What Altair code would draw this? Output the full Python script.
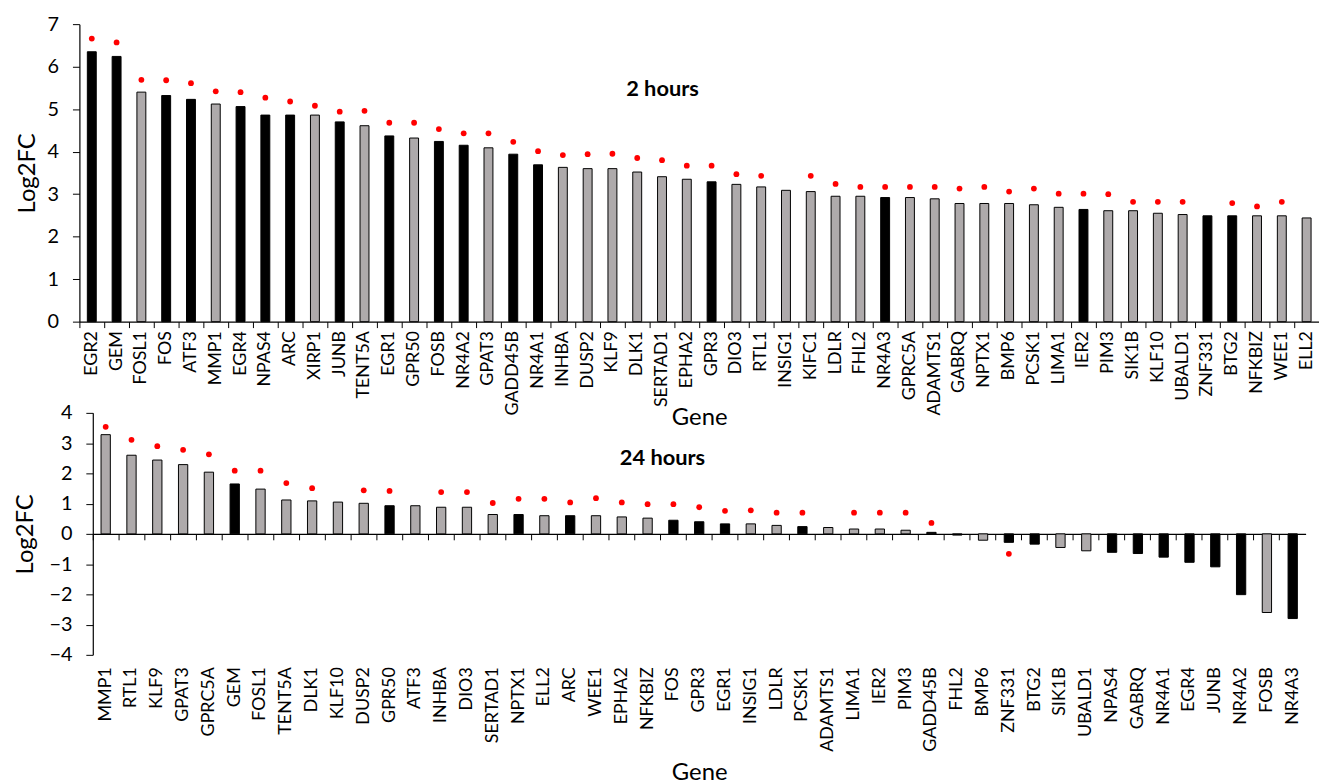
import altair as alt
import pandas as pd

FONT = "Lato"
GRAY = "#AEAAAB"
BLACK = "#000000"

# ---------------- 2 hours ----------------
genes_2h = ["EGR2", "GEM", "FOSL1", "FOS", "ATF3", "MMP1", "EGR4", "NPAS4", "ARC", "XIRP1",
            "JUNB", "TENT5A", "EGR1", "GPR50", "FOSB", "NR4A2", "GPAT3", "GADD45B", "NR4A1", "INHBA",
            "DUSP2", "KLF9", "DLK1", "SERTAD1", "EPHA2", "GPR3", "DIO3", "RTL1", "INSIG1", "KIFC1",
            "LDLR", "FHL2", "NR4A3", "GPRC5A", "ADAMTS1", "GABRQ", "NPTX1", "BMP6", "PCSK1", "LIMA1",
            "IER2", "PIM3", "SIK1B", "KLF10", "UBALD1", "ZNF331", "BTG2", "NFKBIZ", "WEE1", "ELL2"]
lfc_2h = [6.35, 6.24, 5.40, 5.32, 5.23, 5.12, 5.06, 4.86, 4.86, 4.86,
          4.70, 4.61, 4.37, 4.32, 4.24, 4.15, 4.09, 3.94, 3.69, 3.63,
          3.60, 3.60, 3.52, 3.41, 3.35, 3.29, 3.23, 3.17, 3.09, 3.06,
          2.95, 2.95, 2.92, 2.92, 2.89, 2.78, 2.78, 2.78, 2.75, 2.69,
          2.64, 2.61, 2.61, 2.55, 2.52, 2.49, 2.49, 2.49, 2.49, 2.44]
sig_2h = [6.66, 6.57, 5.69, 5.68, 5.61, 5.42, 5.40, 5.27, 5.18, 5.08,
          4.94, 4.96, 4.68, 4.68, 4.53, 4.43, 4.43, 4.23, 4.01, 3.92,
          3.94, 3.95, 3.85, 3.80, 3.67, 3.67, 3.47, 3.43, None, 3.43,
          3.24, 3.17, 3.17, 3.17, 3.17, 3.13, 3.17, 3.06, 3.13, 3.01,
          3.01, 3.00, 2.82, 2.82, 2.82, None, 2.79, 2.71, 2.82, None]
kind_2h = ["k", "k", "g", "k", "k", "g", "k", "k", "k", "g",
           "k", "g", "k", "g", "k", "k", "g", "k", "k", "g",
           "g", "g", "g", "g", "g", "k", "g", "g", "g", "g",
           "g", "g", "k", "g", "g", "g", "g", "g", "g", "g",
           "k", "g", "g", "g", "g", "k", "k", "g", "g", "g"]

# ---------------- 24 hours ----------------
genes_24h = ["MMP1", "RTL1", "KLF9", "GPAT3", "GPRC5A", "GEM", "FOSL1", "TENT5A", "DLK1", "KLF10",
             "DUSP2", "GPR50", "ATF3", "INHBA", "DIO3", "SERTAD1", "NPTX1", "ELL2", "ARC", "WEE1",
             "EPHA2", "NFKBIZ", "FOS", "GPR3", "EGR1", "INSIG1", "LDLR", "PCSK1", "ADAMTS1", "LIMA1",
             "IER2", "PIM3", "GADD45B", "FHL2", "BMP6", "ZNF331", "BTG2", "SIK1B", "UBALD1", "NPAS4",
             "GABRQ", "NR4A1", "EGR4", "JUNB", "NR4A2", "FOSB", "NR4A3"]
lfc_24h = [3.28, 2.60, 2.44, 2.29, 2.04, 1.65, 1.48, 1.12, 1.09, 1.05,
           1.01, 0.93, 0.93, 0.88, 0.88, 0.64, 0.64, 0.60, 0.60, 0.60,
           0.56, 0.52, 0.45, 0.40, 0.33, 0.33, 0.28, 0.24, 0.21, 0.16,
           0.16, 0.12, 0.05, -0.04, -0.21, -0.28, -0.34, -0.45, -0.56, -0.61,
           -0.65, -0.77, -0.94, -1.09, -2.01, -2.60, -2.80]
sig_24h = [3.54, 3.11, 2.90, 2.78, 2.63, 2.09, 2.09, 1.68, 1.51, None,
           1.44, 1.42, None, 1.38, 1.38, 1.02, 1.16, 1.16, 1.04, 1.18,
           1.04, 0.98, 0.98, 0.88, 0.76, 0.78, 0.70, 0.70, None, 0.70,
           0.70, 0.70, 0.36, None, None, -0.66, None, None, None, None,
           None, None, None, None, None, None, None]
kind_24h = ["g", "g", "g", "g", "g", "k", "g", "g", "g", "g",
            "g", "k", "g", "g", "g", "g", "k", "g", "k", "g",
            "g", "g", "k", "k", "k", "g", "g", "k", "g", "g",
            "g", "g", "k", "k", "g", "k", "k", "g", "g", "k",
            "k", "k", "k", "k", "k", "g", "k"]


def panel(genes, lfc, sig, kind, ymin, ymax, width, height, title, title_off,
          zero_offset, lab_pad, y_title_pad, x_title_pad):
    bars_df = pd.DataFrame({
        "gene": genes,
        "lfc": lfc,
        "fill": [BLACK if k == "k" else GRAY for k in kind],
    })
    dots_df = pd.DataFrame({
        "gene": [g for g, s in zip(genes, sig) if s is not None],
        "sig": [s for s in sig if s is not None],
    })
    xscale = alt.Scale(domain=genes, paddingInner=0, paddingOuter=0)
    yscale = alt.Scale(domain=[ymin, ymax], nice=False, zero=True)
    yaxis = alt.Axis(title="Log2FC", values=list(range(ymin, ymax + 1)), grid=False,
                     tickSize=7, labelPadding=14, labelFontSize=20, titleFontSize=24,
                     titleFontWeight="normal", titlePadding=y_title_pad, domainWidth=1.2)
    bars = alt.Chart(bars_df).mark_bar(width={"band": 0.36}, stroke="black", strokeWidth=1).encode(
        x=alt.X("gene:N", scale=xscale,
                axis=alt.Axis(orient="bottom", title="Gene", labelAngle=-90, ticks=False,
                              domain=False, labelPadding=lab_pad, labelFontSize=18,
                              titleFontSize=24, titleFontWeight="normal",
                              titlePadding=x_title_pad, grid=False)),
        y=alt.Y("lfc:Q", scale=yscale, axis=yaxis),
        fill=alt.Fill("fill:N", scale=None),
    )
    dots = alt.Chart(dots_df).mark_circle(size=34, color="#FF0000", opacity=1).encode(
        x=alt.X("gene:N", scale=xscale,
                axis=alt.Axis(orient="bottom", title=None, labels=False, ticks=True, tickSize=6,
                              domain=True, bandPosition=0, offset=zero_offset, grid=False,
                              domainWidth=1.2)),
        y=alt.Y("sig:Q", scale=yscale, axis=yaxis),
    )
    return alt.layer(bars, dots).resolve_axis(x="independent").properties(
        width=width, height=height,
        title=alt.TitleParams(title, offset=title_off, frame="group", anchor="middle",
                              dx=-37, baseline="middle"),
    )


top = panel(genes_2h, lfc_2h, sig_2h, kind_2h, 0, 7, 1250, 300, "2 hours", -97, 0, 9, 8, -9)
bottom = panel(genes_24h, lfc_24h, sig_24h, kind_24h, -4, 4, 1223, 244, "24 hours", -78, -122, 12, 12, 9)

chart = alt.concat(top, bottom, columns=1, spacing=92, bounds="flush", center=True).properties(
    padding={"left": 5, "top": 3, "right": 0, "bottom": 0}
).configure_view(stroke=None).configure_axis(
    labelFont=FONT, titleFont=FONT, labelColor="black", titleColor="black",
    domainColor="black", tickColor="black",
).configure_title(font=FONT, fontSize=22, fontWeight="bold", color="black")

chart.save("out.html", embed_options={"renderer": "svg", "actions": False})
